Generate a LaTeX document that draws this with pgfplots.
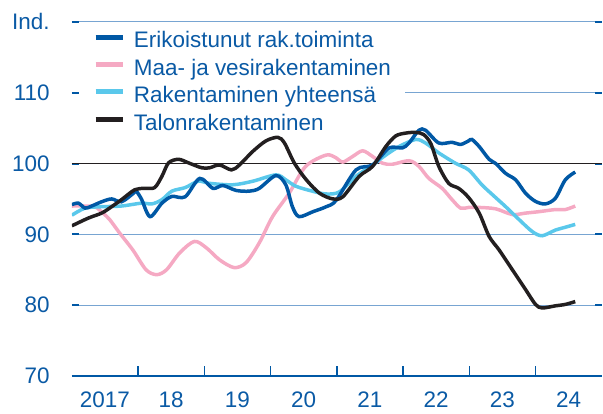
\documentclass[border=0pt]{standalone}
\usepackage{pgfplots}
\pgfplotsset{compat=1.18}
\usepackage{fontspec}
\setmainfont{Liberation Sans}
\definecolor{dblue}{HTML}{0058A5}
\definecolor{tblue}{HTML}{0A5AA5}
\definecolor{pinkc}{HTML}{F5A9C3}
\definecolor{lblue}{HTML}{5AC8EB}
\definecolor{blk}{HTML}{231F20}
\definecolor{gridc}{HTML}{78A5D2}
\begin{document}
\begin{tikzpicture}
\begin{axis}[
  scale only axis, width=531pt, height=354.7pt,
  xmin=0, xmax=8, ymin=70, ymax=120,
  axis line style={draw=none},
  tick align=inside,
  xtick={0.5,1.5,...,7.5},
  xticklabels={2017,18,19,20,21,22,23,24},
  minor xtick={1,2,...,7},
  xtick pos=bottom,
  major x tick style={draw=none},
  minor x tick style={line width=1.5pt, draw=dblue},
  minor tick length=10pt,
  major tick length=7pt,
  ytick={80,90,100,110,120},
  yticklabels={80,90,100,110,Ind.},
  extra y ticks={70},
  extra y tick labels={70},
  extra y tick style={grid style={line width=2.5pt, draw=dblue}},
  major y tick style={line width=2pt, draw=dblue},
  ymajorgrids,
  grid style={line width=1pt, draw=gridc},
  ticklabel style={font=\fontsize{22.5}{27}\selectfont, text=tblue},
  yticklabel style={inner sep=0pt, xshift=-22pt},
  xticklabel style={inner sep=0pt, yshift=-16pt},
  legend style={at={(axis description cs:0.0132,0.9735)}, anchor=north west,
    draw=none, fill=white, inner xsep=14pt, inner ysep=0pt,
    font=\fontsize{22.5}{27}\selectfont, text=tblue,
    row sep=10.5pt, column sep=8pt,
    nodes={inner sep=0pt, text height=16.5pt, text depth=0.5pt}},
  legend cell align=left,
  legend image code/.code={\draw[#1, line width=5pt] (0pt,0.3em) -- (28pt,0.3em);},
]
\addlegendimage{dblue}\addlegendentry{Erikoistunut rak.toiminta}
\addlegendimage{pinkc}\addlegendentry{Maa- ja vesirakentaminen}
\addlegendimage{lblue}\addlegendentry{Rakentaminen yhteensä}
\addlegendimage{blk}\addlegendentry{Talonrakentaminen}

\addplot[blk, line width=1.5pt, forget plot] coordinates {(0,100) (8,100)};

% Maa- ja vesirakentaminen
\addplot[pinkc, line width=3.5pt, smooth, forget plot] coordinates {
(0.00,94.0) (0.20,94.0) (0.35,93.9) (0.47,93.0) (0.57,92.1) (0.72,90.2) (0.92,87.8)
(1.12,85.0) (1.28,84.3) (1.43,85.0) (1.63,87.4) (1.85,89.0) (2.03,88.1) (2.23,86.4)
(2.45,85.3) (2.63,86.0) (2.83,88.8) (3.03,92.5) (3.28,95.8) (3.53,99.6) (3.84,101.2)
(3.99,100.8) (4.09,100.2) (4.24,101.0) (4.39,101.8) (4.54,101.0) (4.69,100.05)
(4.84,99.9) (5.09,100.4) (5.24,99.6) (5.39,97.9) (5.59,96.5) (5.74,94.9) (5.87,93.7)
(5.99,93.8) (6.15,93.8) (6.40,93.6) (6.65,92.8) (6.85,93.0) (7.05,93.2) (7.30,93.5)
(7.45,93.5) (7.60,94.0)};

% Rakentaminen yhteensä
\addplot[lblue, line width=3.5pt, smooth, forget plot] coordinates {
(0.00,92.7) (0.20,93.7) (0.45,93.9) (0.75,94.0) (1.05,94.4) (1.21,94.3) (1.36,94.9)
(1.51,96.1) (1.71,96.6) (1.91,97.5) (2.08,97.2) (2.43,97.0) (2.73,97.5) (3.08,98.4)
(3.23,97.7) (3.38,96.8) (3.63,96.1) (3.84,95.7) (4.04,96.0) (4.29,98.2) (4.54,99.8)
(4.74,101.2) (4.94,102.4) (5.19,103.4) (5.34,102.9) (5.54,101.5) (5.79,100.05)
(5.99,99.1) (6.19,97.0) (6.35,95.6) (6.55,93.9) (6.75,92.1) (6.95,90.4) (7.10,89.8)
(7.30,90.6) (7.45,91.0) (7.60,91.4)};

% Erikoistunut rak.toiminta
\addplot[dblue, line width=3.5pt, smooth, forget plot] coordinates {
(0.00,94.2) (0.10,94.4) (0.20,93.7) (0.30,94.0) (0.45,94.6) (0.60,95.0) (0.75,94.6)
(0.93,95.8) (0.97,96.1) (1.05,95.0) (1.18,92.5) (1.36,94.4) (1.51,95.35) (1.71,95.3)
(1.93,97.9) (2.13,96.5) (2.28,96.9) (2.48,96.2) (2.68,96.1) (2.83,96.5) (3.08,98.3)
(3.23,97.0) (3.33,93.9) (3.43,92.5) (3.64,93.2) (3.84,93.9) (3.99,94.8) (4.29,99.1)
(4.54,99.8) (4.79,102.2) (4.99,102.2) (5.09,102.9) (5.24,104.7) (5.34,104.7)
(5.54,102.9) (5.74,103.0) (5.87,102.7) (5.99,103.2) (6.04,103.4) (6.15,102.4)
(6.30,100.6) (6.40,100.0) (6.55,98.6) (6.70,97.7) (6.85,95.8) (7.00,94.65)
(7.15,94.3) (7.30,95.1) (7.45,97.7) (7.60,98.8)};

% Talonrakentaminen
\addplot[blk, line width=3.5pt, smooth, forget plot] coordinates {
(0.00,91.2) (0.25,92.3) (0.45,93.0) (0.60,93.9) (0.75,94.9) (0.95,96.3) (1.10,96.5)
(1.25,96.6) (1.36,98.2) (1.46,100.1) (1.61,100.6) (1.76,100.1) (1.96,99.4) (2.08,99.4)
(2.23,99.8) (2.41,99.1) (2.53,99.8) (2.73,101.7) (2.93,103.2) (3.11,103.7) (3.21,102.9)
(3.36,100.05) (3.54,97.7) (3.74,95.8) (3.94,95.0) (4.09,95.3) (4.34,98.2) (4.54,99.6)
(4.74,102.4) (4.89,103.9) (5.04,104.3) (5.19,104.4) (5.31,104.1) (5.42,102.8) (5.54,99.6)
(5.69,97.2) (5.84,96.5) (5.99,95.2) (6.15,93.0) (6.30,89.7) (6.45,87.8) (6.65,85.0)
(6.85,82.2) (7.00,80.1) (7.10,79.6) (7.30,79.9) (7.45,80.1) (7.60,80.5)};
\end{axis}
\path ([xshift=-72pt,yshift=-37.3pt]current axis.south west) rectangle ([yshift=22pt]current axis.north east);
\end{tikzpicture}
\end{document}
